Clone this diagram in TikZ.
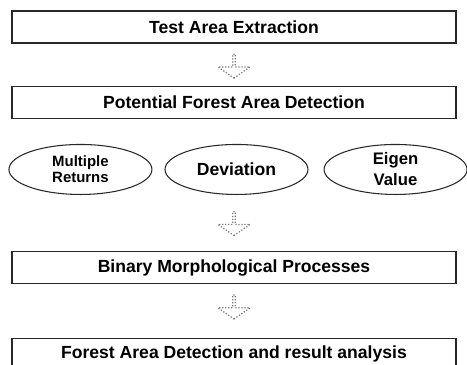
\documentclass[tikz,border=0pt]{standalone}
\usepackage{fontspec}
\setsansfont{Liberation Sans}
\usetikzlibrary{shapes, arrows.meta, positioning}
\definecolor{cLine}{RGB}{40, 40, 40}
\definecolor{cArrow}{RGB}{120, 120, 120}
\tikzset{
    font=\sffamily\bfseries,
    % process boxes
    stageBox/.style={
        rectangle, draw=cLine, line width=0.6pt,
        minimum width=8.88cm, minimum height=0.64cm,
        align=center, font=\sffamily\bfseries\fontsize{10}{12}\selectfont
    },
    % feature ellipses
    featNode/.style={
        ellipse, draw=cLine, line width=0.6pt,
        minimum width=2.86cm, minimum height=1.0cm, inner sep=0pt,
        align=center
    },
    % hollow block arrows
    flowArrow/.style={
        single arrow, shape border rotate=270, draw=cArrow, densely dotted,
        line width=0.7pt, minimum height=0.48cm, minimum width=0.64cm,
        single arrow head extend=0.14cm, single arrow tip angle=110,
        inner sep=0pt
    }
}

\begin{document}
\begin{tikzpicture}
	\useasboundingbox (0,0) rectangle (9.34,-7.3);
	\clip (0,0) rectangle (9.34,-7.3);

	% 1. extraction
	\node[stageBox] (extract) at (4.68,-0.54) {Test Area Extraction};
	\node[flowArrow, below=0.2cm of extract] (arrA) {};

	% 2. candidate detection
	\node[stageBox, below=0.14cm of arrA] (potential) {Potential Forest Area Detection};

	% 3. features
	\node[featNode, below=0.5cm of potential, xshift=0.05cm, font=\sffamily\bfseries\fontsize{10}{12}\selectfont] (deviation) {Deviation};
	\node[featNode, left=0.24cm of deviation, font=\sffamily\bfseries\fontsize{8.5}{9}\selectfont] (returns) {Multiple\\Returns};
	\node[featNode, right=0.3cm of deviation, font=\sffamily\bfseries\fontsize{9.5}{12}\selectfont] (eigen) {Eigen\\Value};

	\node[flowArrow, below=0.32cm of deviation.south -| potential.south] (arrB) {};

	% 4. morphology
	\node[stageBox, below=0.3cm of arrB] (morph) {Binary Morphological Processes};
	\node[flowArrow, below=0.2cm of morph] (arrC) {};

	% 5. final result (runs past the lower edge)
	\node[stageBox, below=0.36cm of arrC] (result) {Forest Area Detection and result analysis};

\end{tikzpicture}
\end{document}
